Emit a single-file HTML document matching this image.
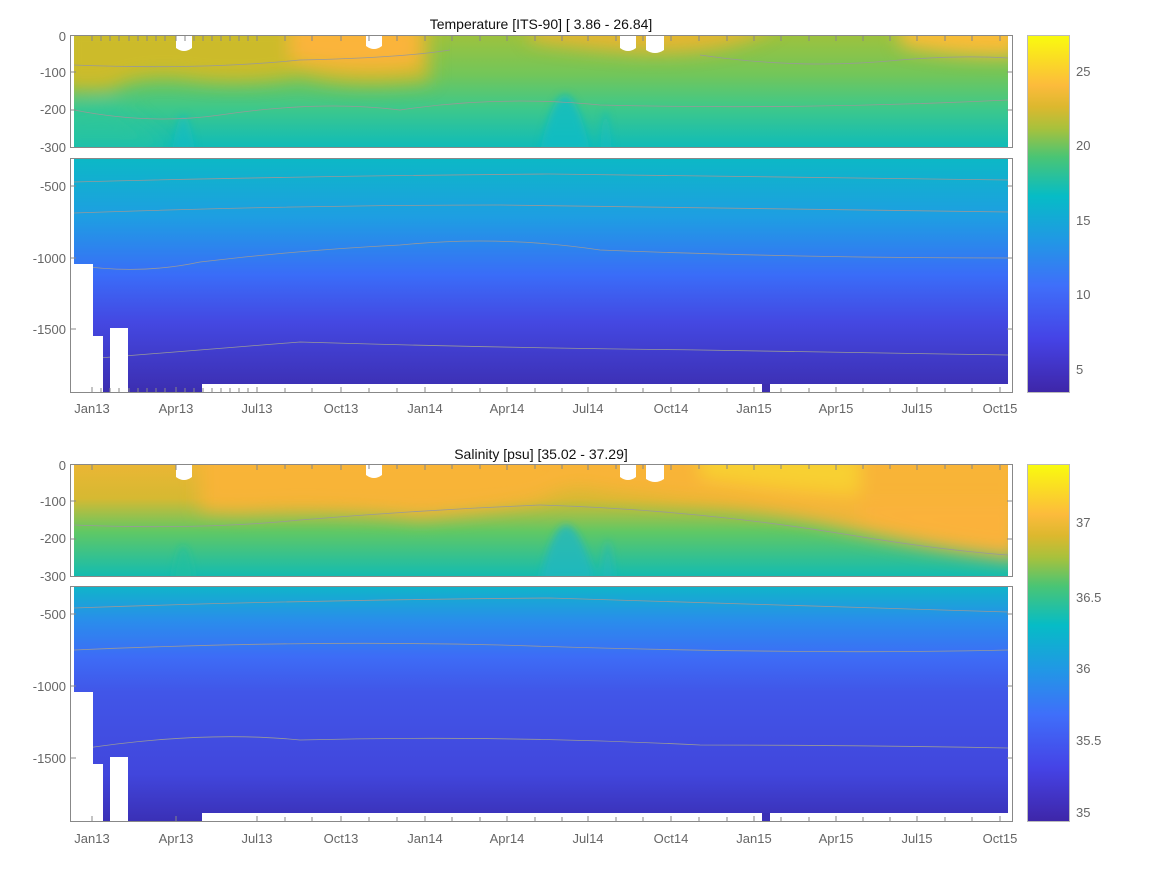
<!DOCTYPE html>
<html><head><meta charset="utf-8"><style>
body{margin:0;background:#fff;width:1167px;height:875px;overflow:hidden}
svg text{font-family:"Liberation Sans",sans-serif}
</style></head><body>
<svg width="1167" height="875" viewBox="0 0 1167 875" xmlns="http://www.w3.org/2000/svg">
<defs>
<filter id="bl" x="-20%" y="-50%" width="140%" height="200%"><feGaussianBlur stdDeviation="9"/></filter>
<filter id="bl2" x="-20%" y="-50%" width="140%" height="200%"><feGaussianBlur stdDeviation="4"/></filter>
<clipPath id="c1"><rect x="74" y="36" width="934" height="111"/></clipPath>
<clipPath id="c3"><rect x="74" y="465" width="934" height="111"/></clipPath>
<linearGradient id="parula" x1="0" y1="1" x2="0" y2="0">
<stop offset="0" stop-color="#3e26a8"/><stop offset="0.15" stop-color="#4543e6"/>
<stop offset="0.3" stop-color="#3f6ffa"/><stop offset="0.42" stop-color="#2296e6"/>
<stop offset="0.55" stop-color="#06bcc6"/><stop offset="0.66" stop-color="#4ac574"/>
<stop offset="0.74" stop-color="#a8c13c"/><stop offset="0.8" stop-color="#dcb82e"/>
<stop offset="0.86" stop-color="#fcbb3c"/><stop offset="1" stop-color="#f9fb0e"/>
</linearGradient>
<linearGradient id="t1" x1="0" y1="0" x2="0" y2="1">
<stop offset="0" stop-color="#9cc23e"/><stop offset="0.35" stop-color="#72c65a"/>
<stop offset="0.65" stop-color="#3ec88a"/><stop offset="1" stop-color="#10bcb8"/>
</linearGradient>
<linearGradient id="t2" x1="0" y1="0" x2="0" y2="1">
<stop offset="0" stop-color="#0cb8c6"/><stop offset="0.25" stop-color="#1e9ee2"/>
<stop offset="0.5" stop-color="#3a6cf8"/><stop offset="0.7" stop-color="#4448e2"/>
<stop offset="1" stop-color="#3c2eb0"/>
</linearGradient>
<linearGradient id="s1" x1="0" y1="0" x2="0" y2="1">
<stop offset="0" stop-color="#eab634"/><stop offset="0.3" stop-color="#d6b932"/>
<stop offset="0.6" stop-color="#60c864"/><stop offset="1" stop-color="#14bcb0"/>
</linearGradient>
<linearGradient id="s2" x1="0" y1="0" x2="0" y2="1">
<stop offset="0" stop-color="#10b4ca"/><stop offset="0.15" stop-color="#2a8cec"/>
<stop offset="0.3" stop-color="#3d6cf6"/><stop offset="0.45" stop-color="#4156e8"/>
<stop offset="0.8" stop-color="#4146dc"/><stop offset="1" stop-color="#3a30b6"/>
</linearGradient>
</defs>

<!-- Temperature -->
<text x="541" y="29" font-size="14" text-anchor="middle" fill="#111">Temperature [ITS-90]   [ 3.86 - 26.84]</text>
<rect x="74" y="36" width="934" height="111" fill="url(#t1)"/>
<g clip-path="url(#c1)">
<g filter="url(#bl)">
<path d="M60 20 H430 V80 Q350 90 300 75 Q250 85 200 80 Q140 70 110 90 L60 90Z" fill="#ccbb2a"/>
<path d="M290 20 H420 V65 Q360 75 290 60Z" fill="#fbb43a"/>
<path d="M530 20 H780 Q740 55 640 52 Q580 48 530 40Z" fill="#e6b632"/>
<path d="M900 20 H1020 V55 Q960 58 900 45Z" fill="#fbbc38"/>
<path d="M110 100 Q150 130 175 150 H60 V110Z" fill="#2ec69a" opacity="0.6"/>
</g>
<g filter="url(#bl2)">
<path d="M540 150 Q565 40 590 150Z" fill="#10bcc6" opacity="0.8"/>
<path d="M600 150 Q605 70 612 150Z" fill="#10bcc6" opacity="0.5"/>
<path d="M172 150 Q183 80 195 150Z" fill="#10bcc6" opacity="0.6"/>
</g>
<path d="M74 65 Q200 70 300 60 Q400 58 450 50 M700 55 Q800 70 900 60 Q960 55 1008 58" fill="none" stroke="#999" stroke-width="0.8"/>
<path d="M74 110 Q150 125 220 115 Q320 100 400 110 Q500 95 600 105 Q800 110 1008 100" fill="none" stroke="#999" stroke-width="0.8"/>
</g>
<path d="M176 36h16v12q-8 6-16 0z M366 36h16v10q-8 6-16 0z M620 36h16v12q-8 6-16 0z M646 36h18v14q-9 6-18 0z" fill="#fff"/>
<rect x="74" y="159" width="934" height="233" fill="url(#t2)"/>
<path d="M74 182 Q300 176 550 174 Q800 178 1008 180" fill="none" stroke="#999" stroke-width="0.8"/>
<path d="M74 213 Q300 205 500 205 Q800 210 1008 212" fill="none" stroke="#999" stroke-width="0.8"/>
<path d="M74 265 Q140 275 200 262 Q300 250 400 245 Q500 235 600 250 Q800 258 1008 258" fill="none" stroke="#999" stroke-width="0.8"/>
<path d="M74 360 Q200 350 300 342 Q500 348 700 350 Q850 352 1008 355" fill="none" stroke="#999" stroke-width="0.8"/>
<rect x="71" y="264" width="22" height="129" fill="#fff"/>
<rect x="71" y="336" width="32" height="57" fill="#fff"/>
<rect x="110" y="328" width="18" height="65" fill="#fff"/>
<rect x="202" y="384" width="806" height="8" fill="#fff"/>
<rect x="762" y="384" width="8" height="8" fill="#3c2eb0"/>
<g fill="none" stroke="#888"><rect x="70.5" y="35.5" width="942" height="112"/><rect x="70.5" y="158.5" width="942" height="234"/></g>
<g font-size="13" fill="#666" text-anchor="end">
<text x="66" y="41">0</text><text x="66" y="77">-100</text><text x="66" y="114">-200</text><text x="66" y="152">-300</text>
<text x="66" y="191">-500</text><text x="66" y="263">-1000</text><text x="66" y="334">-1500</text></g>
<rect x="1027.5" y="35.5" width="42" height="357" fill="url(#parula)" stroke="#bbb"/>
<g font-size="13" fill="#666"><text x="1076" y="76">25</text><text x="1076" y="150">20</text><text x="1076" y="225">15</text><text x="1076" y="299">10</text><text x="1076" y="374">5</text></g>

<!-- Salinity -->
<text x="541" y="459" font-size="14" text-anchor="middle" fill="#111">Salinity [psu]   [35.02 - 37.29]</text>
<rect x="74" y="465" width="934" height="111" fill="url(#s1)"/>
<g clip-path="url(#c3)">
<g filter="url(#bl)">
<path d="M200 450 H1020 V560 Q930 550 850 530 Q760 505 680 500 L600 490 Q570 480 540 500 Q480 512 420 518 Q330 505 240 512 L200 510Z" fill="#fbb438" opacity="0.9"/>
<path d="M700 450 H860 V495 Q780 490 700 478Z" fill="#f8d030"/>
<path d="M860 500 H1020 V550 Q940 545 860 520Z" fill="#fbb23a"/>
</g>
<g filter="url(#bl2)">
<path d="M540 580 Q565 470 595 580Z" fill="#20b8c0" opacity="0.8"/>
<path d="M600 580 Q608 500 615 580Z" fill="#20b8c0" opacity="0.5"/>
<path d="M172 580 Q183 510 195 580Z" fill="#20c0a0" opacity="0.6"/>
</g>
<path d="M74 525 Q200 530 300 520 Q420 510 540 505 Q700 510 850 535 Q940 550 1008 555" fill="none" stroke="#999" stroke-width="0.8"/>
</g>
<path d="M176 465h16v12q-8 6-16 0z M366 465h16v10q-8 6-16 0z M620 465h16v12q-8 6-16 0z M646 465h18v14q-9 6-18 0z" fill="#fff"/>
<rect x="74" y="587" width="934" height="234" fill="url(#s2)"/>
<path d="M74 608 Q300 600 550 598 Q800 605 1008 612" fill="none" stroke="#999" stroke-width="0.8"/>
<path d="M74 650 Q300 640 500 645 Q800 655 1008 650" fill="none" stroke="#999" stroke-width="0.8"/>
<path d="M74 750 Q200 730 300 740 Q500 735 700 745 Q850 745 1008 748" fill="none" stroke="#999" stroke-width="0.8"/>
<rect x="71" y="692" width="22" height="130" fill="#fff"/>
<rect x="71" y="764" width="32" height="58" fill="#fff"/>
<rect x="110" y="757" width="18" height="65" fill="#fff"/>
<rect x="202" y="813" width="806" height="8" fill="#fff"/>
<rect x="762" y="813" width="8" height="8" fill="#3a30b6"/>
<g fill="none" stroke="#888"><rect x="70.5" y="464.5" width="942" height="112"/><rect x="70.5" y="586.5" width="942" height="235"/></g>
<g font-size="13" fill="#666" text-anchor="end">
<text x="66" y="470">0</text><text x="66" y="506">-100</text><text x="66" y="543">-200</text><text x="66" y="581">-300</text>
<text x="66" y="619">-500</text><text x="66" y="691">-1000</text><text x="66" y="763">-1500</text></g>
<rect x="1027.5" y="464.5" width="42" height="357" fill="url(#parula)" stroke="#bbb"/>
<g font-size="13" fill="#666"><text x="1076" y="527">37</text><text x="1076" y="602">36.5</text><text x="1076" y="673">36</text><text x="1076" y="745">35.5</text><text x="1076" y="817">35</text></g>

<!-- ticks -->
<g stroke="#888" stroke-width="1">
<path d="M92 36v5M101 36v5M110 36v5M119 36v5M129 36v5M138 36v5M147 36v5M156 36v5M165 36v5M176 36v5M185 36v5M194 36v5M203 36v5M212 36v5M221 36v5M230 36v5M239 36v5M248 36v5M257 36v5M285 36v5M312 36v5M341 36v5M369 36v5M397 36v5M425 36v5M452 36v5M480 36v5M507 36v5M535 36v5M562 36v5M588 36v5M616 36v5M643 36v5M671 36v5M699 36v5M727 36v5M754 36v5M781 36v5M809 36v5M836 36v5M863 36v5M890 36v5M917 36v5M945 36v5M972 36v5M1000 36v5"/>
<path d="M92 392v-5M101 392v-4M110 392v-4M119 392v-4M129 392v-4M138 392v-4M147 392v-4M156 392v-4M165 392v-4M176 392v-5M185 392v-4M194 392v-4M203 392v-4M212 392v-4M221 392v-4M230 392v-4M239 392v-4M248 392v-4M257 392v-5M285 392v-4M312 392v-4M341 392v-5M369 392v-4M397 392v-4M425 392v-5M452 392v-4M480 392v-4M507 392v-5M535 392v-4M562 392v-4M588 392v-5M616 392v-4M643 392v-4M671 392v-5M699 392v-4M727 392v-4M754 392v-5M781 392v-4M809 392v-4M836 392v-5M863 392v-4M890 392v-4M917 392v-5M945 392v-4M972 392v-4M1000 392v-5"/>
<path d="M71 72h5M71 110h5M71 186h5M71 258h5M71 329h5M1012 72h-5M1012 110h-5M1012 186h-5M1012 258h-5M1012 329h-5"/>
<path d="M71 501h5M71 539h5M71 614h5M71 686h5M71 758h5M1012 501h-5M1012 539h-5M1012 614h-5M1012 686h-5M1012 758h-5"/>
</g>
<use href="#none"/>
<g stroke="#888" stroke-width="1" transform="translate(0,429)">
<path d="M92 36v5M176 36v5M257 36v5M341 36v5M425 36v5M507 36v5M588 36v5M671 36v5M754 36v5M836 36v5M917 36v5M1000 36v5M285 36v4M312 36v4M369 36v4M397 36v4M452 36v4M480 36v4M535 36v4M562 36v4M616 36v4M643 36v4M699 36v4M727 36v4M781 36v4M809 36v4M863 36v4M890 36v4M945 36v4M972 36v4"/>
<path d="M92 392v-5M176 392v-5M257 392v-5M341 392v-5M425 392v-5M507 392v-5M588 392v-5M671 392v-5M754 392v-5M836 392v-5M917 392v-5M1000 392v-5M285 392v-4M312 392v-4M369 392v-4M397 392v-4M452 392v-4M480 392v-4M535 392v-4M562 392v-4M616 392v-4M643 392v-4M699 392v-4M727 392v-4M781 392v-4M809 392v-4M863 392v-4M890 392v-4M945 392v-4M972 392v-4"/>
</g>

<!-- x labels -->
<g font-size="13" fill="#666" text-anchor="middle">
<text x="92" y="413">Jan13</text><text x="176" y="413">Apr13</text><text x="257" y="413">Jul13</text><text x="341" y="413">Oct13</text><text x="425" y="413">Jan14</text><text x="507" y="413">Apr14</text><text x="588" y="413">Jul14</text><text x="671" y="413">Oct14</text><text x="754" y="413">Jan15</text><text x="836" y="413">Apr15</text><text x="917" y="413">Jul15</text><text x="1000" y="413">Oct15</text>
<text x="92" y="843">Jan13</text><text x="176" y="843">Apr13</text><text x="257" y="843">Jul13</text><text x="341" y="843">Oct13</text><text x="425" y="843">Jan14</text><text x="507" y="843">Apr14</text><text x="588" y="843">Jul14</text><text x="671" y="843">Oct14</text><text x="754" y="843">Jan15</text><text x="836" y="843">Apr15</text><text x="917" y="843">Jul15</text><text x="1000" y="843">Oct15</text>
</g>
</svg>
</body></html>
